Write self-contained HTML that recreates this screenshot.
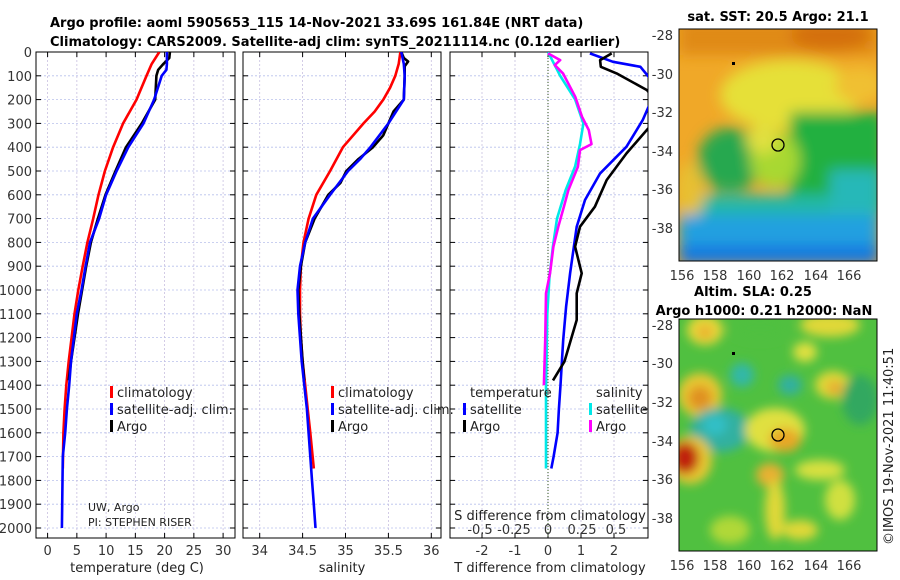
<!DOCTYPE html>
<html><head><meta charset="utf-8"><style>
html,body{margin:0;padding:0;background:#fff;}
svg{display:block;font-family:"DejaVu Sans","Liberation Sans",sans-serif;}
</style></head><body>
<svg id="fig" width="900" height="580" viewBox="0 0 900 580" xmlns="http://www.w3.org/2000/svg">
<defs>
<clipPath id="c1"><rect x="36" y="52" width="199" height="486"/></clipPath>
<clipPath id="c2"><rect x="243" y="52" width="198" height="486"/></clipPath>
<clipPath id="c3"><rect x="450" y="52" width="198" height="486"/></clipPath>
<clipPath id="m1"><rect x="679" y="29" width="198" height="232"/></clipPath>
<clipPath id="m2"><rect x="679" y="319" width="198" height="232"/></clipPath>
<filter id="blur" x="-20%" y="-20%" width="140%" height="140%"><feGaussianBlur stdDeviation="7"/></filter>
<filter id="blur2" x="-20%" y="-20%" width="140%" height="140%"><feGaussianBlur stdDeviation="5"/></filter>
</defs>
<g font-weight="bold" font-size="13">
<text x="50" y="27">Argo profile: aoml 5905653_115 14-Nov-2021 33.69S 161.84E (NRT data)</text>
<text x="50" y="46">Climatology: CARS2009. Satellite-adj clim: synTS_20211114.nc (0.12d earlier)</text>
</g>

<!-- SST map -->
<g>
<text x="778" y="21" text-anchor="middle" font-weight="bold" font-size="13">sat. SST: 20.5 Argo: 21.1</text>
<g clip-path="url(#m1)">
<rect x="679" y="29" width="198" height="232" fill="#f0a828"/>
<g filter="url(#blur)">
<rect x="679" y="20" width="200" height="35" fill="#e08a18"/>
<ellipse cx="830" cy="35" rx="40" ry="15" fill="#d47010"/>
<ellipse cx="790" cy="95" rx="70" ry="35" fill="#e6e038"/>
<ellipse cx="860" cy="85" rx="25" ry="18" fill="#f0c030"/>
<rect x="790" y="112" width="95" height="100" fill="#22b040"/>
<ellipse cx="730" cy="160" rx="32" ry="32" fill="#28a850"/>
<ellipse cx="775" cy="160" rx="25" ry="28" fill="#a8d830"/>
<ellipse cx="762" cy="140" rx="16" ry="14" fill="#e0e040"/>
<rect x="679" y="195" width="200" height="30" fill="#20b8a8"/>
<rect x="830" y="170" width="50" height="50" fill="#28b8b8"/>
<ellipse cx="690" cy="190" rx="14" ry="28" fill="#e8c030"/>
<rect x="679" y="215" width="200" height="50" fill="#20a0e0"/>
<rect x="679" y="245" width="200" height="20" fill="#1878e0"/>
</g>
<circle cx="778" cy="145" r="6" fill="none" stroke="#000" stroke-width="1.3"/>
<rect x="732" y="62" width="3" height="3" fill="#000"/>
</g>
<rect x="679" y="29" width="198" height="232" fill="none" stroke="#000" stroke-width="1"/>
<g font-size="13" fill="#333" text-anchor="end">
<text x="673" y="40">-28</text><text x="673" y="79">-30</text><text x="673" y="117">-32</text><text x="673" y="156">-34</text><text x="673" y="194">-36</text><text x="673" y="233">-38</text>
</g>
<g font-size="13" fill="#333" text-anchor="middle">
<text x="682" y="280">156</text><text x="715" y="280">158</text><text x="749" y="280">160</text><text x="782" y="280">162</text><text x="816" y="280">164</text><text x="849" y="280">166</text>
</g>
</g>

<!-- SLA map -->
<g>
<text x="753" y="296" text-anchor="middle" font-weight="bold" font-size="13">Altim. SLA: 0.25</text>
<text x="764" y="315" text-anchor="middle" font-weight="bold" font-size="13">Argo h1000: 0.21 h2000: NaN</text>
<g clip-path="url(#m2)">
<rect x="679" y="319" width="198" height="232" fill="#50c040"/>
<g filter="url(#blur2)">
<ellipse cx="705" cy="330" rx="18" ry="15" fill="#e8d838"/>
<ellipse cx="705" cy="332" rx="8" ry="7" fill="#eab030"/>
<ellipse cx="760" cy="328" rx="30" ry="12" fill="#50c040"/>
<ellipse cx="830" cy="325" rx="30" ry="12" fill="#e0d838"/>
<ellipse cx="805" cy="352" rx="12" ry="10" fill="#e0e040"/>
<ellipse cx="700" cy="395" rx="22" ry="22" fill="#e8c830"/>
<ellipse cx="700" cy="398" rx="12" ry="12" fill="#e09020"/>
<ellipse cx="742" cy="375" rx="12" ry="12" fill="#30b8a8"/>
<ellipse cx="790" cy="385" rx="12" ry="10" fill="#30b0a0"/>
<ellipse cx="833" cy="385" rx="18" ry="14" fill="#e0d838"/>
<ellipse cx="835" cy="388" rx="8" ry="7" fill="#e8a830"/>
<ellipse cx="860" cy="400" rx="18" ry="25" fill="#30a860"/>
<ellipse cx="720" cy="430" rx="30" ry="22" fill="#30b0a0"/>
<ellipse cx="715" cy="425" rx="12" ry="10" fill="#30c0c8"/>
<ellipse cx="775" cy="430" rx="30" ry="22" fill="#e0e040"/>
<ellipse cx="785" cy="440" rx="16" ry="12" fill="#e8a828"/>
<ellipse cx="770" cy="475" rx="14" ry="12" fill="#e8b030"/>
<ellipse cx="775" cy="510" rx="10" ry="30" fill="#e0d838"/>
<ellipse cx="690" cy="460" rx="22" ry="24" fill="#e8c830"/>
<ellipse cx="685" cy="458" rx="14" ry="16" fill="#c02010"/>
<ellipse cx="820" cy="470" rx="25" ry="10" fill="#d8e040"/>
<ellipse cx="840" cy="500" rx="15" ry="20" fill="#d0e040"/>
<ellipse cx="800" cy="530" rx="18" ry="10" fill="#e0d838"/>
<ellipse cx="730" cy="530" rx="20" ry="14" fill="#b0d838"/>
</g>
<circle cx="778" cy="435" r="6" fill="none" stroke="#000" stroke-width="1.3"/>
<rect x="732" y="352" width="3" height="3" fill="#000"/>
</g>
<rect x="679" y="319" width="198" height="232" fill="none" stroke="#000" stroke-width="1"/>
<g font-size="13" fill="#333" text-anchor="end">
<text x="673" y="330">-28</text><text x="673" y="368">-30</text><text x="673" y="407">-32</text><text x="673" y="446">-34</text><text x="673" y="484">-36</text><text x="673" y="523">-38</text>
</g>
<g font-size="13" fill="#333" text-anchor="middle">
<text x="682" y="570">156</text><text x="715" y="570">158</text><text x="749" y="570">160</text><text x="782" y="570">162</text><text x="816" y="570">164</text><text x="849" y="570">166</text>
</g>
</g>
<text transform="translate(893,545) rotate(-90)" font-size="13" fill="#222">©IMOS 19-Nov-2021 11:40:51</text>

<g id="plots"></g>
</svg>
<script>
// ---- data ----
const depthTicks = [0,100,200,300,400,500,600,700,800,900,1000,1100,1200,1300,1400,1500,1600,1700,1800,1900,2000];
const tempTicks = [0,5,10,15,20,25,30];
const salTicks = [34,34.5,35,35.5,36];
const salTickLabels = ["34","34.5","35","35.5","36"];
const tDiffTicks = [-2,-1,0,1,2];
const sDiffTicks = [-0.5,-0.25,0,0.25,0.5];
const sDiffTickLabels = ["-0.5","-0.25","0","0.25","0.5"];

const tClimDepth = [0,50,100,200,300,400,500,600,700,800,900,1000,1100,1200,1300,1400,1500,1600,1750];
const tClim = [19.1,17.8,16.9,15.2,12.9,11.2,9.8,8.7,7.8,6.8,6.0,5.25,4.6,4.1,3.6,3.2,2.9,2.7,2.6];
const tSatDepth = [0,50,75,100,200,300,400,500,600,700,800,900,1000,1100,1200,1300,1400,1500,1600,1700,1800,1900,2000];
const tSat = [20.4,20.4,20.3,19.5,18.2,16.4,13.8,11.8,10.0,8.8,7.25,6.5,5.8,5.0,4.5,4.0,3.7,3.3,3.0,2.6,2.55,2.5,2.45];
const tArgoDepth = [0,25,50,75,100,150,200,300,400,500,600,700,800,900,1000,1100,1200,1300,1380];
const tArgo = [20.9,20.8,19.8,18.9,18.6,18.5,18.4,16.1,13.4,11.6,9.9,8.6,7.4,6.6,5.9,5.2,4.6,4.0,3.6];

const sClimDepth = [0,50,100,150,200,250,300,400,500,600,700,800,900,1000,1100,1200,1300,1400,1500,1600,1750];
const sClim = [35.64,35.62,35.58,35.52,35.44,35.34,35.21,34.97,34.82,34.66,34.57,34.51,34.48,34.47,34.47,34.48,34.50,34.53,34.56,34.59,34.63];
const sSatDepth = [0,50,100,200,300,400,450,500,600,700,800,900,1000,1100,1200,1300,1400,1500,1600,1700,1800,1900,2000];
const sSat = [35.65,35.68,35.69,35.68,35.50,35.29,35.17,35.03,34.82,34.62,34.53,34.47,34.44,34.45,34.47,34.49,34.52,34.55,34.57,34.59,34.61,34.63,34.65];
const sArgoDepth = [0,25,40,60,100,200,250,300,350,400,450,500,550,600,700,800,900,1000,1100,1200,1300,1380];
const sArgo = [35.65,35.68,35.73,35.69,35.69,35.68,35.56,35.50,35.44,35.32,35.15,35.01,34.94,34.80,34.64,34.53,34.48,34.45,34.46,34.48,34.50,34.52];

const dTSatDepth = [6,41,62,104,160,230,286,398,510,622,734,832,930,1070,1210,1300,1400,1500,1600,1700,1750];
const dTSat = [1.27,1.97,2.8,3.05,3.4,3.05,2.87,2.38,1.58,1.12,0.87,0.77,0.67,0.55,0.46,0.42,0.38,0.33,0.29,0.17,0.1];
const dTArgoDepth = [6,34,62,90,160,250,328,426,538,650,734,818,930,1014,1126,1196,1300,1380];
const dTArgo = [1.93,1.58,1.6,2.08,3.0,3.5,2.99,2.38,1.78,1.42,0.97,0.82,1.02,0.87,0.87,0.72,0.5,0.15];
const dSSatDepth = [0,100,200,300,387,480,580,700,820,950,1100,1400,1750];
const dSSat = [0,0.09,0.2,0.26,0.235,0.2,0.13,0.066,0.035,0.01,-0.005,-0.015,-0.015];
const dSArgoDepth = [6,34,55,90,188,272,328,387,412,482,580,650,734,818,930,1014,1196,1400];
const dSArgo = [0,0.09,0.05,0.11,0.2,0.25,0.30,0.32,0.235,0.22,0.15,0.117,0.076,0.04,0.015,-0.015,-0.02,-0.03];

// ---- axes ----
const NS = "http://www.w3.org/2000/svg";
const yD = d => 52 + d * 0.238;
const xT = t => 47.6 + t * 5.85;
const xS = s => 259.7 + (s - 34) * 85.8;
const xDT = v => 548 + v * 33;
const xDS = v => 548 + v * 136;
const root = document.getElementById('plots');
function mk(tag, attrs, parent) {
  const e = document.createElementNS(NS, tag);
  for (const k in attrs) e.setAttribute(k, attrs[k]);
  (parent || root).appendChild(e);
  return e;
}
const panels = [
  {x0:36, x1:235, clip:'c1', name:'temperature-panel'},
  {x0:243, x1:441, clip:'c2', name:'salinity-panel'},
  {x0:450, x1:648, clip:'c3', name:'difference-panel'}
];
const gridX = [tempTicks.map(xT), salTicks.map(xS), tDiffTicks.map(xDT)];
panels.forEach((p, i) => {
  const g = mk('g', {});
  
  
  p.g = g;
  depthTicks.forEach(d => {
    const l = mk('line', {x1:p.x0, x2:p.x1, y1:yD(d), y2:yD(d), stroke:'#b8c0ec', 'stroke-width':0.8, 'stroke-dasharray':'2,2'}, g);
    
    
    mk('line', {x1:p.x0, x2:p.x0+5, y1:yD(d), y2:yD(d), stroke:'#000'}, g);
    mk('line', {x1:p.x1-5, x2:p.x1, y1:yD(d), y2:yD(d), stroke:'#000'}, g);
  });
  gridX[i].forEach(x => {
    const l = mk('line', {x1:x, x2:x, y1:52, y2:538, stroke:'#c8c0e0', 'stroke-width':0.8, 'stroke-dasharray':'2,2'}, g);
    
    
    mk('line', {x1:x, x2:x, y1:538, y2:533, stroke:'#000'}, g);
    mk('line', {x1:x, x2:x, y1:52, y2:57, stroke:'#000'}, g);
  });
  const fr = mk('rect', {x:p.x0, y:52, width:p.x1-p.x0, height:486, fill:'none', stroke:'#000', 'stroke-width':1}, g);
  
  
});
// y tick labels
depthTicks.forEach(d => {
  const t = mk('text', {x:32, y:yD(d)+5, 'text-anchor':'end', 'font-size':13, fill:'#333'});
  t.textContent = d;
  
  
});
function xlabels(ticks, labels, fx, y) {
  ticks.forEach((v, i) => {
    const t = mk('text', {x:fx(v), y:y, 'text-anchor':'middle', 'font-size':13, fill:'#333'});
    t.textContent = labels[i];
    
    
  });
}
xlabels(tempTicks, tempTicks.map(String), xT, 555);
xlabels(salTicks, salTickLabels, xS, 555);
xlabels(tDiffTicks, tDiffTicks.map(String), xDT, 555);
xlabels(sDiffTicks, sDiffTickLabels, xDS, 534);
function label(txt, x, y, name, anchor, size, color) {
  const t = mk('text', {x:x, y:y, 'text-anchor':anchor||'middle', 'font-size':size||13, fill:color||'#222'});
  t.textContent = txt;
  
  
  return t;
}
label('temperature (deg C)', 137, 572, 'x-axis-title-temperature');
label('salinity', 342, 572, 'x-axis-title-salinity');
label('T difference from climatology', 550, 572, 'x-axis-title-t-diff');
label('S difference from climatology', 550, 520, 'x-axis-title-s-diff');
label('UW, Argo', 88, 511, 'pi-institution', 'start', 11);
label('PI: STEPHEN RISER', 88, 526, 'pi-name', 'start', 11);

// lines
function series(depths, vals, fx, color, panel, name) {
  const pts = depths.map((d, i) => fx(vals[i]).toFixed(1) + ',' + yD(d).toFixed(1)).join(' ');
  const l = mk('polyline', {points:pts, fill:'none', stroke:color, 'stroke-width':2.6, 'stroke-linejoin':'round', 'clip-path':'url(#'+panel.clip+')'}, panel.g);
  
  
}
series(tClimDepth, tClim, xT, '#ff0000', panels[0], 'temperature-climatology-line');
series(tArgoDepth, tArgo, xT, '#000000', panels[0], 'temperature-argo-line');
series(tSatDepth, tSat, xT, '#0000ff', panels[0], 'temperature-satellite-line');
series(sClimDepth, sClim, xS, '#ff0000', panels[1], 'salinity-climatology-line');
series(sArgoDepth, sArgo, xS, '#000000', panels[1], 'salinity-argo-line');
series(sSatDepth, sSat, xS, '#0000ff', panels[1], 'salinity-satellite-line');
const zl = mk('line', {x1:xDT(0), x2:xDT(0), y1:52, y2:538, stroke:'#335522', 'stroke-width':1, 'stroke-dasharray':'1,2'}, panels[2].g);


series(dSSatDepth, dSSat, xDS, '#00e8e8', panels[2], 's-diff-satellite-line');
series(dSArgoDepth, dSArgo, xDS, '#ff00ff', panels[2], 's-diff-argo-line');
series(dTSatDepth, dTSat, xDT, '#0000ff', panels[2], 't-diff-satellite-line');
series(dTArgoDepth, dTArgo, xDT, '#000000', panels[2], 't-diff-argo-line');

// legends
function legendEntry(x, y, color, txt, name) {
  const g = mk('g', {});
  
  
  mk('rect', {x:x, y:y-11, width:3, height:12, fill:color}, g);
  const t = mk('text', {x:x+7, y:y, 'font-size':13, fill:'#222'}, g);
  t.textContent = txt;
}
legendEntry(110, 397, '#ff0000', 'climatology', 'legend-entry-climatology');
legendEntry(110, 414, '#0000ff', 'satellite-adj. clim.', 'legend-entry-satellite');
legendEntry(110, 431, '#000000', 'Argo', 'legend-entry-argo');
legendEntry(331, 397, '#ff0000', 'climatology', 'legend-entry-climatology-sal');
legendEntry(331, 414, '#0000ff', 'satellite-adj. clim.', 'legend-entry-satellite-sal');
legendEntry(331, 431, '#000000', 'Argo', 'legend-entry-argo-sal');
label('temperature', 470, 397, 'legend-title-temperature', 'start');
legendEntry(463, 414, '#0000ff', 'satellite', 'legend-entry-t-satellite');
legendEntry(463, 431, '#000000', 'Argo', 'legend-entry-t-argo');
label('salinity', 596, 397, 'legend-title-salinity', 'start');
legendEntry(589, 414, '#00e8e8', 'satellite', 'legend-entry-s-satellite');
legendEntry(589, 431, '#ff00ff', 'Argo', 'legend-entry-s-argo');
</script>
</body></html>
